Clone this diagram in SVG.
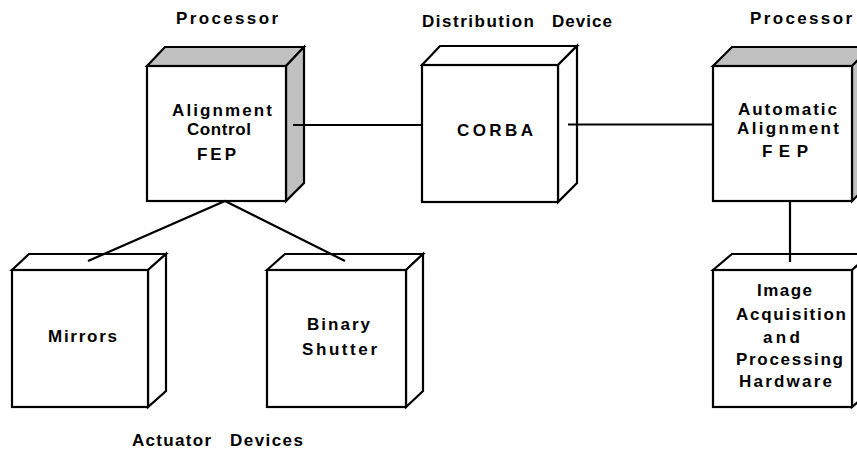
<svg xmlns="http://www.w3.org/2000/svg" width="857" height="450" viewBox="0 0 857 450">
  <style>
    .face { fill: #ffffff; stroke: #000000; stroke-width: 2.2; stroke-linejoin: miter; }
    .shade { fill: #c0c0c0; stroke: #000000; stroke-width: 2.2; stroke-linejoin: miter; }
    .wire { fill: none; stroke: #000000; stroke-width: 2.2; }
    text { font-family: "Liberation Sans", Arial, Helvetica, sans-serif; font-weight: bold; font-size: 17px; fill: #000000; }
  </style>
  <rect width="857" height="450" fill="#ffffff"/>

  <!-- group captions -->
  <g id="captions">
    <text x="176" y="24" textLength="102" lengthAdjust="spacing">Processor</text>
    <text x="422" y="26.5" textLength="112" lengthAdjust="spacing">Distribution</text>
    <text x="552" y="26.5" textLength="60" lengthAdjust="spacing">Device</text>
    <text x="750" y="23.5" textLength="102" lengthAdjust="spacing">Processor</text>
    <text x="132" y="445.5" textLength="79" lengthAdjust="spacing">Actuator</text>
    <text x="230" y="445.5" textLength="73" lengthAdjust="spacing">Devices</text>
  </g>

  <!-- processor: Alignment Control FEP -->
  <g id="alignment-control-fep">
    <polygon class="shade" points="147,66 165,47 304,47 286,66"/>
    <polygon class="shade" points="286,66 304,47 304,183 286,201"/>
    <rect class="face" x="147" y="66" width="139" height="135"/>
    <text x="172" y="115.5" textLength="100" lengthAdjust="spacing">Alignment</text>
    <text x="187" y="135" textLength="64" lengthAdjust="spacing">Control</text>
    <text x="197" y="160" textLength="39" lengthAdjust="spacing">FEP</text>
  </g>

  <!-- distribution device: CORBA -->
  <g id="corba">
    <polygon class="face" points="422,65 440,46 577,46 558,65"/>
    <polygon class="face" points="558,65 577,46 577,183 558,202"/>
    <rect class="face" x="422" y="65" width="136" height="137"/>
    <text x="457" y="136" textLength="76" lengthAdjust="spacing">CORBA</text>
  </g>

  <!-- processor: Automatic Alignment FEP -->
  <g id="automatic-alignment-fep">
    <polygon class="shade" points="713,66 732,47 871,47 852,66"/>
    <polygon class="shade" points="852,66 871,47 871,182 852,201"/>
    <rect class="face" x="713" y="66" width="139" height="135"/>
    <text x="738" y="115" textLength="99" lengthAdjust="spacing">Automatic</text>
    <text x="737" y="134" textLength="102" lengthAdjust="spacing">Alignment</text>
    <text x="762" y="157" textLength="46" lengthAdjust="spacing">FEP</text>
  </g>

  <!-- actuator device: Mirrors -->
  <g id="mirrors">
    <polygon class="face" points="12,270 29,254 166,254 148,270"/>
    <polygon class="face" points="148,270 166,254 166,391 148,407"/>
    <rect class="face" x="12" y="270" width="136" height="137"/>
    <text x="48" y="341.5" textLength="69" lengthAdjust="spacing">Mirrors</text>
  </g>

  <!-- actuator device: Binary Shutter -->
  <g id="binary-shutter">
    <polygon class="face" points="267,270 285,254 423,254 406,270"/>
    <polygon class="face" points="406,270 423,254 423,391 406,407"/>
    <rect class="face" x="267" y="270" width="139" height="137"/>
    <text x="307" y="330" textLength="63" lengthAdjust="spacing">Binary</text>
    <text x="302" y="354.5" textLength="75" lengthAdjust="spacing">Shutter</text>
  </g>

  <!-- Image Acquisition and Processing Hardware -->
  <g id="image-hardware">
    <polygon class="face" points="713,270 732,254 871,254 852,270"/>
    <polygon class="face" points="852,270 871,254 871,391 852,407"/>
    <rect class="face" x="713" y="270" width="139" height="137"/>
    <text x="757" y="296" textLength="55" lengthAdjust="spacing">Image</text>
    <text x="736" y="320" textLength="110" lengthAdjust="spacing">Acquisition</text>
    <text x="763" y="343" textLength="37" lengthAdjust="spacing">and</text>
    <text x="736" y="365" textLength="107" lengthAdjust="spacing">Processing</text>
    <text x="739" y="387" textLength="93" lengthAdjust="spacing">Hardware</text>
  </g>

  <!-- links between nodes -->
  <g id="connectors">
    <line class="wire" x1="293" y1="125" x2="422" y2="125"/>
    <line class="wire" x1="568" y1="124.5" x2="713" y2="124.5"/>
    <polyline class="wire" points="88,261 225,201 345,261"/>
    <line class="wire" x1="790" y1="201" x2="790" y2="262"/>
  </g>
</svg>
